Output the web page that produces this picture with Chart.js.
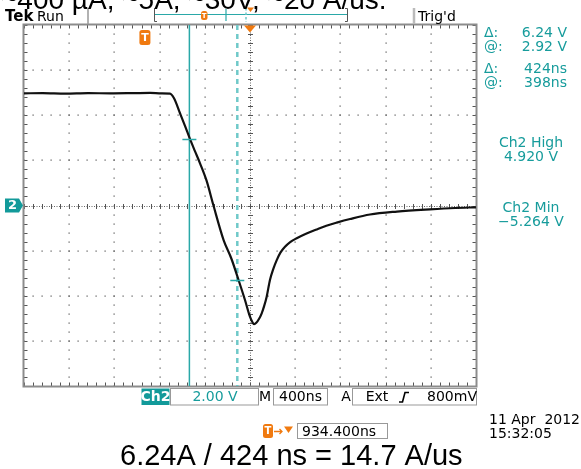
<!DOCTYPE html>
<html>
<head>
<meta charset="utf-8">
<script src="https://cdn.jsdelivr.net/npm/chart.js@4.4.0/dist/chart.umd.min.js"></script>
<style>
  html, body { margin: 0; padding: 0; background: #fff; }
  canvas { display: block; }
</style>
</head>
<body>
<canvas id="scope" width="581" height="469"></canvas>
<script>
// Ch2 trace, time in ns from the trigger point, volts
var timeNs = [-1066, -900, -700, -500, -300, -100, 50, 150, 226, 262, 315, 360, 403, 448, 492, 550, 610, 700, 770, 831,
              890, 934, 955, 970, 990, 1015, 1038, 1060, 1082, 1111, 1140, 1171, 1205, 1244, 1290, 1348, 1430, 1525, 1610,
              1702, 1820, 1996, 2235, 2527, 2750, 2934];
var ch2Volts = [4.97, 4.98, 4.96, 4.98, 4.97, 4.98, 4.99, 4.97, 4.96, 4.75, 4.09, 3.52, 2.95, 2.40, 1.87, 1.10, 0.02, -1.52, -2.36, -3.27,
                -4.19, -4.93, -5.16, -5.26, -5.20, -5.02, -4.78, -4.45, -4.04, -3.30, -2.82, -2.42, -2.08, -1.83, -1.62, -1.45, -1.25, -1.06, -0.90,
                -0.76, -0.60, -0.40, -0.27, -0.17, -0.11, -0.08];

// screen settings
var timePerDiv = 400;     // M 400ns
var voltsPerDiv = 2;      // Ch2 2.00 V
var centerTime = 934.4;   // T -> expansion point
var cursorTimes = [398, 822];
var cursorVolts = [2.92, -3.32];

// readout texts
var readLabels = ['\u0394:', '@:', '\u0394:', '@:'];
var readValues = ['6.24 V', '2.92 V', '424ns', '398ns'];
var measLines = ['Ch2 High', '4.920 V', 'Ch2 Min', '\u22125.264 V'];
var topNote = '~400 \u00b5A, ~5A, ~30V, ~20 A/us.';
var bottomNote = '6.24A / 424 ns = 14.7 A/us';

var TEAL = '#179c9c';
var ORANGE = '#f07a10';
var FONT = '"DejaVu Sans", sans-serif';

var points = timeNs.map(function (t, i) { return {x: t, y: ch2Volts[i]}; });

function roundRect(ctx, x, y, w, h, r) {
    ctx.beginPath();
    ctx.moveTo(x + r, y);
    ctx.lineTo(x + w - r, y);
    ctx.quadraticCurveTo(x + w, y, x + w, y + r);
    ctx.lineTo(x + w, y + h - r);
    ctx.quadraticCurveTo(x + w, y + h, x + w - r, y + h);
    ctx.lineTo(x + r, y + h);
    ctx.quadraticCurveTo(x, y + h, x, y + h - r);
    ctx.lineTo(x, y + r);
    ctx.quadraticCurveTo(x, y, x + r, y);
    ctx.closePath();
}

function tMarker(ctx, x, y, w, h, size) {
    ctx.save();
    ctx.fillStyle = ORANGE;
    roundRect(ctx, x, y, w, h, 2.5);
    ctx.fill();
    ctx.fillStyle = '#fff';
    ctx.font = 'bold ' + size + 'px ' + FONT;
    ctx.textAlign = 'center';
    ctx.textBaseline = 'middle';
    ctx.fillText('T', x + w / 2, y + h / 2 + 0.5);
    ctx.restore();
}

// graticule: dotted divisions, centre cross with ticks, frame
var graticule = {
    id: 'graticule',
    beforeDatasetsDraw: function (chart) {
        var ctx = chart.ctx, xs = chart.scales.x, ys = chart.scales.y;
        var a = chart.chartArea;
        ctx.save();
        ctx.fillStyle = '#fff';
        ctx.fillRect(0, 0, chart.width, chart.height);

        var xMinor = timePerDiv / 5, yMinor = voltsPerDiv / 5;
        ctx.fillStyle = '#555';
        // dotted major lines
        for (var i = 1; i < 10; i++) {
            var tv = xs.min + i * timePerDiv;
            if (Math.abs(tv - centerTime) < 1) continue;
            var px = Math.round(xs.getPixelForValue(tv));
            for (var k = 0; k <= 40; k++) {
                ctx.fillRect(px - 0.5, Math.round(ys.getPixelForValue(ys.min + k * yMinor)) - 0.5, 1.2, 1.2);
            }
        }
        for (var j = 1; j < 8; j++) {
            var vv = ys.min + j * voltsPerDiv;
            if (Math.abs(vv) < 0.01) continue;
            var py = Math.round(ys.getPixelForValue(vv));
            for (var m = 0; m <= 50; m++) {
                ctx.fillRect(Math.round(xs.getPixelForValue(xs.min + m * xMinor)) - 0.5, py - 0.5, 1.2, 1.2);
            }
        }
        // centre cross
        var cx = Math.round(xs.getPixelForValue(centerTime)) + 0.5;
        var cy = Math.round(ys.getPixelForValue(0)) + 0.5;
        ctx.strokeStyle = '#666';
        ctx.lineWidth = 1;
        ctx.setLineDash([1, 1.5]);
        ctx.beginPath();
        ctx.moveTo(a.left, cy); ctx.lineTo(a.right, cy);
        ctx.moveTo(cx, a.top); ctx.lineTo(cx, a.bottom);
        ctx.stroke();
        ctx.setLineDash([]);
        ctx.strokeStyle = '#555';
        ctx.beginPath();
        for (var q = 0; q <= 50; q++) {
            var tx = Math.round(xs.getPixelForValue(xs.min + q * xMinor)) + 0.5;
            ctx.moveTo(tx, cy - 2.5); ctx.lineTo(tx, cy + 2.5);
            ctx.moveTo(tx, a.top); ctx.lineTo(tx, a.top + 3.5);
            ctx.moveTo(tx, a.bottom); ctx.lineTo(tx, a.bottom - 3.5);
        }
        for (var r = 0; r <= 40; r++) {
            var ty = Math.round(ys.getPixelForValue(ys.min + r * yMinor)) + 0.5;
            ctx.moveTo(cx - 2.5, ty); ctx.lineTo(cx + 2.5, ty);
            ctx.moveTo(a.left, ty); ctx.lineTo(a.left + 3.5, ty);
            ctx.moveTo(a.right, ty); ctx.lineTo(a.right - 3.5, ty);
        }
        ctx.stroke();
        // frame
        ctx.strokeStyle = '#8c8c8c';
        ctx.lineWidth = 2;
        ctx.strokeRect(a.left - 0.5, a.top - 0.5, a.right - a.left + 1, a.bottom - a.top + 1);

        // cursors
        var c1 = xs.getPixelForValue(cursorTimes[0]);
        var c2 = xs.getPixelForValue(cursorTimes[1]);
        ctx.strokeStyle = '#2aa8a8';
        ctx.lineWidth = 1.5;
        ctx.beginPath();
        ctx.moveTo(c1, a.top); ctx.lineTo(c1, a.bottom);
        ctx.stroke();
        ctx.strokeStyle = '#6fc9c9';
        ctx.lineWidth = 2.5;
        ctx.setLineDash([5, 4]);
        ctx.beginPath();
        ctx.moveTo(c2, a.top); ctx.lineTo(c2, a.bottom);
        ctx.stroke();
        ctx.setLineDash([]);
        ctx.restore();
    },
    afterDatasetsDraw: function (chart) {
        var ctx = chart.ctx, xs = chart.scales.x, ys = chart.scales.y;
        var a = chart.chartArea;
        ctx.save();
        // cursor crossing marks
        ctx.strokeStyle = '#2aa8a8';
        ctx.lineWidth = 1.5;
        ctx.beginPath();
        for (var i = 0; i < 2; i++) {
            var px = xs.getPixelForValue(cursorTimes[i]);
            var py = ys.getPixelForValue(cursorVolts[i]);
            ctx.moveTo(px - 7, py); ctx.lineTo(px + 7, py);
        }
        ctx.stroke();

        // expansion point triangle
        var ex = xs.getPixelForValue(centerTime);
        ctx.fillStyle = ORANGE;
        ctx.beginPath();
        ctx.moveTo(ex - 6, a.top + 0.5); ctx.lineTo(ex + 6, a.top + 0.5); ctx.lineTo(ex, a.top + 7.5);
        ctx.closePath();
        ctx.fill();
        // trigger T marker
        var tx = xs.getPixelForValue(0);
        tMarker(ctx, tx - 5, 30, 11, 15, 11);

        // ground marker "2"
        var gy = ys.getPixelForValue(0);
        ctx.fillStyle = '#129a9a';
        ctx.beginPath();
        ctx.moveTo(5, gy - 7); ctx.lineTo(19, gy - 7); ctx.lineTo(23, gy);
        ctx.lineTo(19, gy + 7); ctx.lineTo(5, gy + 7);
        ctx.closePath();
        ctx.fill();
        ctx.fillStyle = '#fff';
        ctx.font = 'bold 13px ' + FONT;
        ctx.textAlign = 'center';
        ctx.textBaseline = 'middle';
        ctx.fillText('2', 12.5, gy + 0.5);

        // top status bar
        ctx.textAlign = 'left';
        ctx.textBaseline = 'alphabetic';
        ctx.fillStyle = '#000';
        ctx.font = 'bold 15px ' + FONT;
        ctx.fillText('Tek', 5, 21);
        ctx.font = '14px ' + FONT;
        ctx.fillText('Run', 37, 21);
        ctx.fillText("Trig'd", 418, 21);
        ctx.strokeStyle = '#999';
        ctx.lineWidth = 1.5;
        ctx.beginPath();
        ctx.moveTo(88, 8); ctx.lineTo(88, 24);
        ctx.stroke();
        ctx.strokeStyle = '#bbb';
        ctx.lineWidth = 2.5;
        ctx.beginPath();
        ctx.moveTo(414, 8); ctx.lineTo(414, 24);
        ctx.stroke();
        // record view bracket
        ctx.strokeStyle = '#555';
        ctx.lineWidth = 1;
        ctx.beginPath();
        ctx.moveTo(157, 8.5); ctx.lineTo(154.5, 8.5); ctx.lineTo(154.5, 21.5); ctx.lineTo(157, 21.5);
        ctx.moveTo(345, 8.5); ctx.lineTo(347.5, 8.5); ctx.lineTo(347.5, 21.5); ctx.lineTo(345, 21.5);
        ctx.stroke();
        ctx.strokeStyle = '#2aa8a8';
        ctx.lineWidth = 1.2;
        ctx.beginPath();
        ctx.moveTo(155, 14.5); ctx.lineTo(347, 14.5);
        ctx.moveTo(226, 9); ctx.lineTo(226, 21);
        ctx.stroke();
        ctx.strokeStyle = '#6fc9c9';
        ctx.lineWidth = 1.5;
        ctx.setLineDash([2.5, 2]);
        ctx.beginPath();
        ctx.moveTo(246, 8); ctx.lineTo(246, 22);
        ctx.stroke();
        ctx.setLineDash([]);
        tMarker(ctx, 201, 11, 6.5, 9, 7);
        ctx.fillStyle = ORANGE;
        ctx.beginPath();
        ctx.moveTo(247, 7.5); ctx.lineTo(254, 7.5); ctx.lineTo(250.5, 12);
        ctx.closePath();
        ctx.fill();

        // right readouts
        ctx.fillStyle = TEAL;
        ctx.font = '14px ' + FONT;
        var rowY = [37, 51, 73, 87];
        for (var k = 0; k < 4; k++) {
            ctx.textAlign = 'left';
            ctx.fillText(readLabels[k], 484, rowY[k]);
            ctx.textAlign = 'right';
            ctx.fillText(readValues[k], 567, rowY[k]);
        }
        ctx.textAlign = 'center';
        var measY = [147, 161, 212, 226];
        for (var n = 0; n < 4; n++) {
            ctx.fillText(measLines[n], 531, measY[n]);
        }

        // bottom status bar
        ctx.fillStyle = '#129a9a';
        ctx.fillRect(141.5, 388.5, 28, 16.5);
        ctx.strokeStyle = '#999';
        ctx.lineWidth = 1;
        ctx.strokeRect(170.5, 388.5, 88, 16.5);
        ctx.strokeRect(273.5, 388.5, 54, 16.5);
        ctx.strokeRect(352.5, 388.5, 124, 16.5);
        ctx.textBaseline = 'middle';
        ctx.fillStyle = '#fff';
        ctx.font = 'bold 14px ' + FONT;
        ctx.fillText('Ch2', 155.5, 397.5);
        ctx.font = '14px ' + FONT;
        ctx.fillStyle = TEAL;
        ctx.fillText('2.00 V', 215, 397.5);
        ctx.fillStyle = '#000';
        ctx.fillText('M', 265, 397.5);
        ctx.fillText('400ns', 300.5, 397.5);
        ctx.fillText('A', 346, 397.5);
        ctx.fillText('Ext', 377, 397.5);
        ctx.fillText('800mV', 452, 397.5);
        ctx.strokeStyle = '#000';
        ctx.lineWidth = 1.6;
        ctx.beginPath();
        ctx.moveTo(399, 402); ctx.lineTo(402.5, 402); ctx.lineTo(405, 392.5); ctx.lineTo(409, 392.5);
        ctx.stroke();

        // trigger position readout
        tMarker(ctx, 263, 424, 10, 14, 10);
        ctx.strokeStyle = ORANGE;
        ctx.lineWidth = 1.3;
        ctx.beginPath();
        ctx.moveTo(274, 431.5); ctx.lineTo(282, 431.5);
        ctx.moveTo(279.5, 429); ctx.lineTo(282, 431.5); ctx.lineTo(279.5, 434);
        ctx.stroke();
        ctx.fillStyle = ORANGE;
        ctx.beginPath();
        ctx.moveTo(284, 426.5); ctx.lineTo(293, 426.5); ctx.lineTo(288.5, 433);
        ctx.closePath();
        ctx.fill();
        ctx.strokeStyle = '#999';
        ctx.lineWidth = 1;
        ctx.strokeRect(297.5, 423.5, 90, 15);
        ctx.fillStyle = '#000';
        ctx.textAlign = 'left';
        ctx.textBaseline = 'alphabetic';
        ctx.font = '14px ' + FONT;
        ctx.fillText('934.400ns', 302, 436);
        ctx.fillText('11 Apr  2012', 489, 423.5);
        ctx.fillText('15:32:05', 489, 437.5);

        // notes
        ctx.font = '28px "Liberation Sans", Arial, sans-serif';
        ctx.fillText(topNote, 1, 8.5);
        ctx.font = '29px "Liberation Sans", Arial, sans-serif';
        ctx.fillText(bottomNote, 120, 465);
        ctx.restore();
    }
};

var scope = new Chart(document.getElementById('scope'), {
    type: 'line',
    data: {
        datasets: [{
            label: 'Ch2',
            data: points,
            borderColor: '#111',
            borderWidth: 2.2,
            pointRadius: 0,
            fill: false,
            cubicInterpolationMode: 'monotone'
        }]
    },
    options: {
        responsive: false,
        animation: false,
        devicePixelRatio: 1,
        layout: { padding: { left: 24, right: 105, top: 25, bottom: 83 } },
        scales: {
            x: { type: 'linear', display: false, min: centerTime - 5 * timePerDiv, max: centerTime + 5 * timePerDiv },
            y: { type: 'linear', display: false, min: -4 * voltsPerDiv, max: 4 * voltsPerDiv }
        },
        plugins: {
            legend: { display: false },
            tooltip: { enabled: false }
        }
    },
    plugins: [graticule]
});
</script>
</body>
</html>
